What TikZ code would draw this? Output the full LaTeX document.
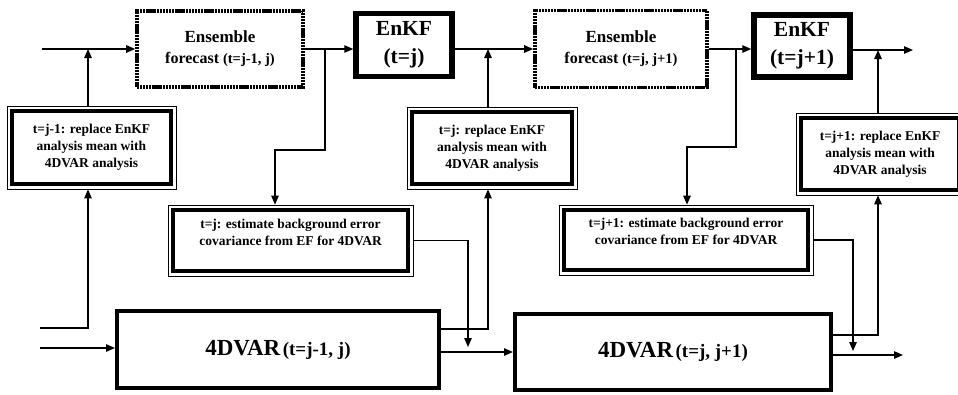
\documentclass[tikz,border=0pt]{standalone}
\usepackage{fontspec}
\setmainfont{Liberation Serif}
\usetikzlibrary{arrows.meta}

\begin{document}
\begin{tikzpicture}[x=1pt, y=-1pt, font=\bfseries, line width=1.3pt,
    >={Triangle[length=9pt,width=7.5pt]},
    efbox/.style={draw, line width=3.6pt, dash pattern=on 2.2pt off 0.7pt, align=center,
      font=\bfseries\fontsize{16}{21}\selectfont},
    kfbox/.style={draw, line width=5.5pt, align=center, font=\bfseries\fontsize{21.5}{28}\selectfont},
    dvbox/.style={draw, line width=4pt},
    dblbox/.style={draw, line width=0.8pt, align=center,
      font=\bfseries\fontsize{13.5}{17}\selectfont,
      path picture={\draw[line width=4.5pt]
        ([shift={(5pt,-5pt)}]path picture bounding box.north west) rectangle
        ([shift={(-5pt,5pt)}]path picture bounding box.south east);}}]
  \useasboundingbox (0,0) rectangle (958,394);
  \clip (0,0) rectangle (958,394);
  % upper row: ensemble forecasts and EnKF analyses
  \node[efbox, minimum width=166pt, minimum height=76pt] (ef1) at (220,49)
    {{\fontsize{17}{21}\selectfont Ensemble}\\forecast {\fontsize{14.5}{17}\selectfont (t=j-1, j)}};
  \node[kfbox, minimum width=96pt, minimum height=63pt] (kf1) at (404,45) {EnKF\\(t=j)};
  \node[efbox, minimum width=172pt, minimum height=77pt] (ef2) at (621,49)
    {{\fontsize{17}{21}\selectfont Ensemble}\\forecast {\fontsize{14.5}{17}\selectfont (t=j, j+1)}};
  \node[kfbox, minimum width=96pt, minimum height=62pt] (kf2) at (802,46) {EnKF\\(t=j+1)};
  % replacement boxes
  \node[dblbox, minimum width=169pt, minimum height=83pt] (rep1) at (91.5,147.5)
    {t=j-1: replace EnKF\\analysis mean with\\4DVAR analysis};
  \node[dblbox, minimum width=170pt, minimum height=82pt] (rep2) at (492,148)
    {t=j: replace EnKF\\analysis mean with\\4DVAR analysis};
  \node[dblbox, minimum width=168pt, minimum height=82pt] (rep3) at (880,154)
    {t=j+1: replace EnKF\\analysis mean with\\4DVAR analysis};
  % background error covariance boxes
  \node[dblbox, minimum width=245pt, minimum height=71pt] (est1) at (290.5,240.5)
    {t=j: estimate background error\\covariance from EF for 4DVAR\\\mbox{}};
  \node[dblbox, minimum width=254pt, minimum height=70pt] (est2) at (686,240)
    {t=j+1: estimate background error\\covariance from EF for 4DVAR\\\mbox{}};
  % lower row: 4DVAR
  \node[dvbox, minimum width=322pt, minimum height=77pt] (dv1) at (278,349.5)
    {{\fontsize{23}{26}\selectfont 4DVAR} {\fontsize{19}{22}\selectfont (t=j-1, j)}};
  \node[dvbox, minimum width=316pt, minimum height=76pt] (dv2) at (673,352)
    {{\fontsize{23}{26}\selectfont 4DVAR} {\fontsize{19}{22}\selectfont (t=j, j+1)}};

  \coordinate (in1) at (42,49);
  \coordinate (a1) at (88,49);
  \coordinate (b1) at (325,49);
  \coordinate (k1) at (275,150);
  \coordinate (a2) at (488,49);
  \coordinate (b2) at (736,49);
  \coordinate (k2) at (687,147);
  \coordinate (a3) at (878,50);
  \coordinate (out1) at (913,50);
  \coordinate (in2) at (40,328);
  \coordinate (in3) at (40,348);
  \coordinate (u1) at (488,329);
  \coordinate (d1) at (468,347);
  \coordinate (u2) at (877,335);
  \coordinate (d2) at (853,351);
  \coordinate (out2) at (903,355);

  % upper flow
  \draw[->] (in1) -- (in1 -| ef1.west);
  \draw[->] (a1 |- rep1.north) -- (a1);
  \draw[->] (ef1.east) -- (ef1.east -| kf1.west);
  \draw[->] (b1) |- (k1) -- (k1 |- est1.north);
  \draw[->] (ef2.west -| kf1.east) -- (ef2.west);
  \draw[->] (a2 |- rep2.north) -- (a2);
  \draw[->] (ef2.east) -- (ef2.east -| kf2.west);
  \draw[->] (b2) |- (k2) -- (k2 |- est2.north);
  \draw[->] (kf2.east |- out1) -- (out1);
  \draw[->] (a3 |- rep3.north) -- (a3);
  % lower flow
  \draw[->] (in2) -| (a1 |- rep1.south);
  \draw[->] (in3) -- (in3 -| dv1.west);
  \draw[->] (est1.east) -| (d1);
  \draw[->] (u1 -| dv1.east) -| (a2 |- rep2.south);
  \draw[->] (dv2.west -| dv1.east) -- (dv2.west);
  \draw[->] (est2.east) -| (d2);
  \draw[->] (u2 -| dv2.east) -| (a3 |- rep3.south);
  \draw[->] (out2 -| dv2.east) -- (out2);
\end{tikzpicture}
\end{document}
